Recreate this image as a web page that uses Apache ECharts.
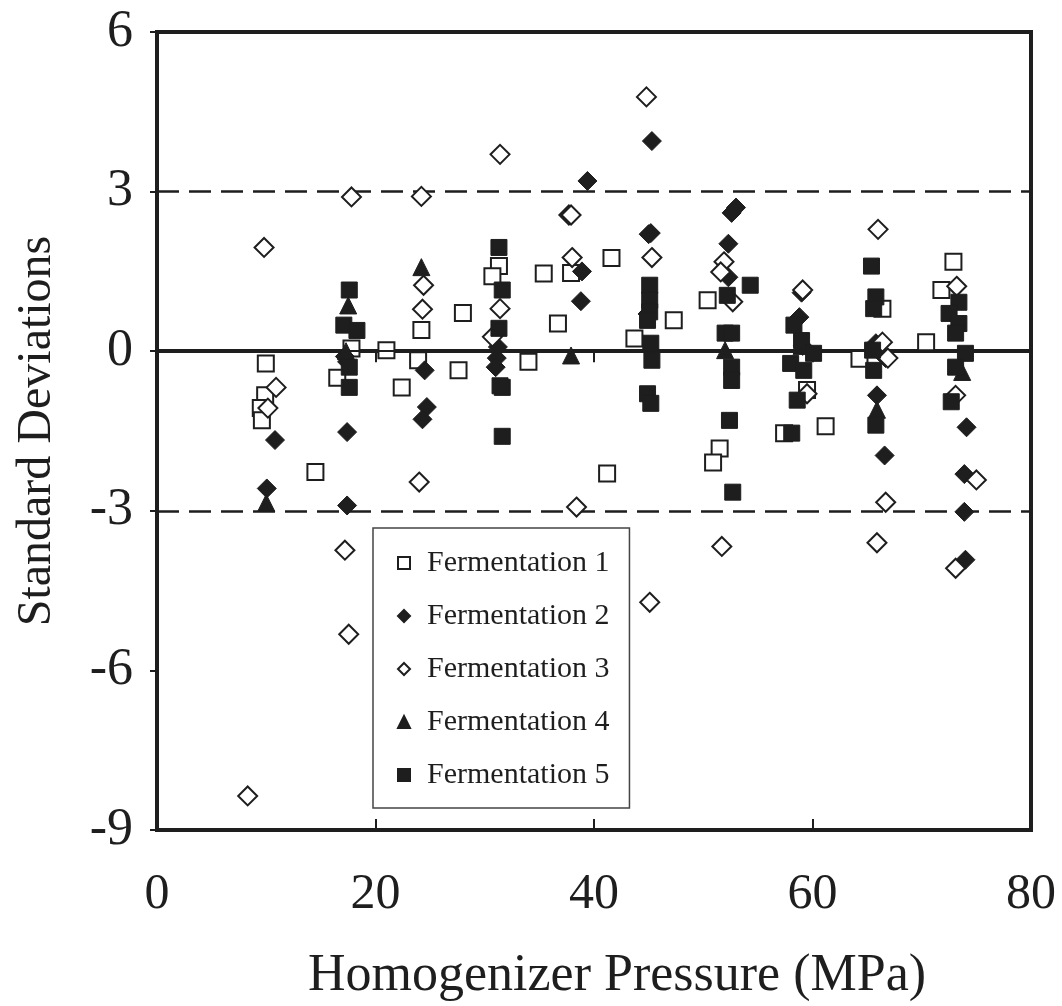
<!DOCTYPE html>
<html><head><meta charset="utf-8">
<script src="https://cdn.jsdelivr.net/npm/echarts@6/dist/echarts.min.js"></script>
<style>html,body{margin:0;padding:0;background:#fff}#c{width:1062px;height:1006px}</style>
</head><body><div id="c"></div>
<script>
var xTicks = [0, 20, 40, 60, 80];
var yTicks = [-9, -6, -3, 0, 3, 6];
var seriesNames = ['Fermentation 1','Fermentation 2','Fermentation 3','Fermentation 4','Fermentation 5'];
var f1 = [[9.96,-0.23],[9.9,-0.83],[9.5,-1.07],[9.6,-1.3],[14.5,-2.27],[17.8,0.05],[16.5,-0.5],[21.0,0.02],[22.4,-0.68],[23.9,-0.17],[24.2,0.4],[28.0,0.72],[27.6,-0.36],[31.3,1.6],[30.7,1.41],[34.0,-0.2],[35.4,1.46],[36.7,0.52],[37.9,1.47],[41.6,1.75],[41.2,-2.3],[43.7,0.24],[47.3,0.58],[50.4,0.96],[51.5,-1.83],[50.9,-2.09],[59.5,-0.73],[57.4,-1.54],[61.2,-1.41],[64.3,-0.14],[66.4,0.8],[70.4,0.17],[72.9,1.68],[71.8,1.15]];
var f2 = [[10.8,-1.67],[10.05,-2.58],[17.4,-1.52],[17.4,-2.9],[24.5,-0.36],[24.7,-1.05],[24.3,-1.28],[31.2,0.08],[31.1,-0.13],[31.0,-0.3],[38.9,1.5],[39.4,3.2],[38.8,0.94],[45.3,3.95],[45.2,2.22],[45.0,2.2],[44.9,0.7],[52.6,2.6],[53.0,2.7],[52.3,2.02],[52.3,1.39],[59.0,1.1],[58.8,0.64],[59.1,0.1],[65.8,0.15],[66.7,-0.13],[65.9,-0.83],[66.6,-1.96],[74.1,-1.43],[73.9,-2.31],[73.9,-3.02],[74.0,-3.92],[17.2,-0.1],[17.4,-0.2]];
var f3 = [[9.8,1.95],[10.9,-0.68],[10.15,-1.07],[8.3,-8.36],[17.8,2.9],[17.2,-3.74],[17.55,-5.32],[24.3,0.79],[24.4,1.24],[24.2,2.91],[24.0,-2.46],[31.4,0.8],[31.4,3.7],[30.7,0.27],[38.0,1.76],[37.7,2.56],[37.9,2.56],[38.4,-2.93],[44.8,4.78],[45.3,1.76],[45.1,-4.72],[51.9,1.68],[51.6,1.49],[52.7,0.93],[51.7,-3.67],[59.1,1.15],[59.5,-0.8],[66.0,2.29],[66.4,0.17],[66.9,-0.13],[66.7,-2.84],[65.9,-3.6],[73.2,1.22],[73.1,-0.83],[75.0,-2.42],[73.1,-4.08]];
var f4 = [[10.0,-2.85],[17.5,0.86],[17.3,0.0],[24.2,1.58],[37.9,-0.08],[52.0,0.02],[59.0,0.1],[65.9,-1.1],[73.7,-0.39]];
var f5 = [[17.6,1.15],[17.1,0.49],[18.3,0.39],[17.6,-0.3],[17.6,-0.68],[31.3,1.95],[31.6,1.15],[31.3,0.43],[31.6,-0.68],[31.6,-1.6],[31.4,-0.65],[45.1,1.24],[45.1,0.96],[45.1,0.74],[44.9,0.58],[45.2,0.15],[45.3,-0.17],[44.9,-0.8],[45.2,-0.98],[54.3,1.24],[52.2,1.05],[52.0,0.34],[52.6,0.34],[52.6,-0.3],[52.6,-0.55],[52.4,-1.3],[52.7,-2.65],[58.3,0.49],[59.0,0.2],[60.1,-0.04],[58.0,-0.23],[59.2,-0.36],[58.6,-0.92],[58.1,-1.54],[65.4,1.6],[65.8,1.02],[65.6,0.8],[65.5,0.02],[65.6,-0.36],[65.8,-1.39],[73.4,0.92],[72.5,0.71],[73.4,0.52],[73.1,0.34],[74.0,-0.04],[73.1,-0.3],[72.7,-0.95]];
var refLines = [3, 0, -3];

var ink = '#1e1e1e';
var font = 'Liberation Serif';
var chart = echarts.init(document.getElementById('c'));
function sc(name, data, symbol, size, filled, z) {
  return {
    name: name, type: 'scatter', data: data, symbol: symbol, symbolSize: size, z: z,
    itemStyle: filled ? {color: ink, borderColor: ink, borderWidth: 1, opacity: 1} : {color: '#fff', borderColor: ink, borderWidth: 2, opacity: 1},
    emphasis: {disabled: true}
  };
}
var option = {
  animation: false,
  backgroundColor: '#fff',
  grid: {left: 157, right: 31, top: 32, bottom: 176, show: true, borderColor: ink, borderWidth: 4, containLabel: false, outerBoundsMode: 'none'},
  xAxis: [{
    type: 'value', min: xTicks[0], max: xTicks[xTicks.length-1], interval: 20,
    axisLine: {lineStyle: {color: ink, width: 4}},
    axisTick: {show: true, inside: false, length: 11, lineStyle: {color: ink, width: 2}},
    splitLine: {show: false},
    axisLabel: {fontFamily: font, fontSize: 50, color: ink, margin: 40},
    name: 'Homogenizer Pressure (MPa)', nameLocation: 'middle', nameGap: 120,
    nameTextStyle: {fontFamily: font, fontSize: 52, color: ink, padding: [0, 0, 0, 46]}
  }, {
    type: 'value', min: xTicks[0], max: xTicks[xTicks.length-1], interval: 20, position: 'bottom',
    axisLine: {show: false},
    axisTick: {show: true, inside: true, length: 11, lineStyle: {color: ink, width: 2}},
    axisLabel: {show: false}, splitLine: {show: false}
  }],
  yAxis: {
    type: 'value', min: yTicks[0], max: yTicks[yTicks.length-1], interval: 3,
    axisLine: {lineStyle: {color: ink, width: 4}},
    axisTick: {show: true, inside: false, length: 7, lineStyle: {color: ink, width: 2}},
    splitLine: {show: false},
    axisLabel: {fontFamily: font, fontSize: 52, color: ink, margin: 24},
    name: 'Standard Deviations', nameLocation: 'middle', nameGap: 96,
    nameTextStyle: {fontFamily: font, fontSize: 48, color: ink}
  },
  legend: {
    data: seriesNames, orient: 'vertical', left: 373, top: 528,
    padding: [20, 20, 18, 24], itemGap: 23, itemWidth: 12, itemHeight: 12,
    backgroundColor: '#fff', borderColor: '#444', borderWidth: 1.5,
    textStyle: {fontFamily: font, fontSize: 30, color: ink, lineHeight: 30, padding: [0, 0, 0, 12]}
  },
  series: [
    {
      name: 'refs', type: 'scatter', data: [], z: 1, silent: true,
      markLine: {
        silent: true, symbol: 'none', animation: false, label: {show: false},
        data: refLines.map(function (v) {
          return {yAxis: v, lineStyle: {color: ink, width: v === 0 ? 2 : 2.5, type: v === 0 ? 'solid' : [22, 10]}};
        })
      }
    },
    sc(seriesNames[0], f1, 'rect', 16, false, 3),
    sc(seriesNames[1], f2, 'diamond', 19, true, 4),
    sc(seriesNames[2], f3, 'diamond', 19, false, 5),
    sc(seriesNames[3], f4, 'triangle', 17, true, 6),
    sc(seriesNames[4], f5, 'rect', 16, true, 7)
  ]
};
chart.setOption(option);
</script></body></html>
